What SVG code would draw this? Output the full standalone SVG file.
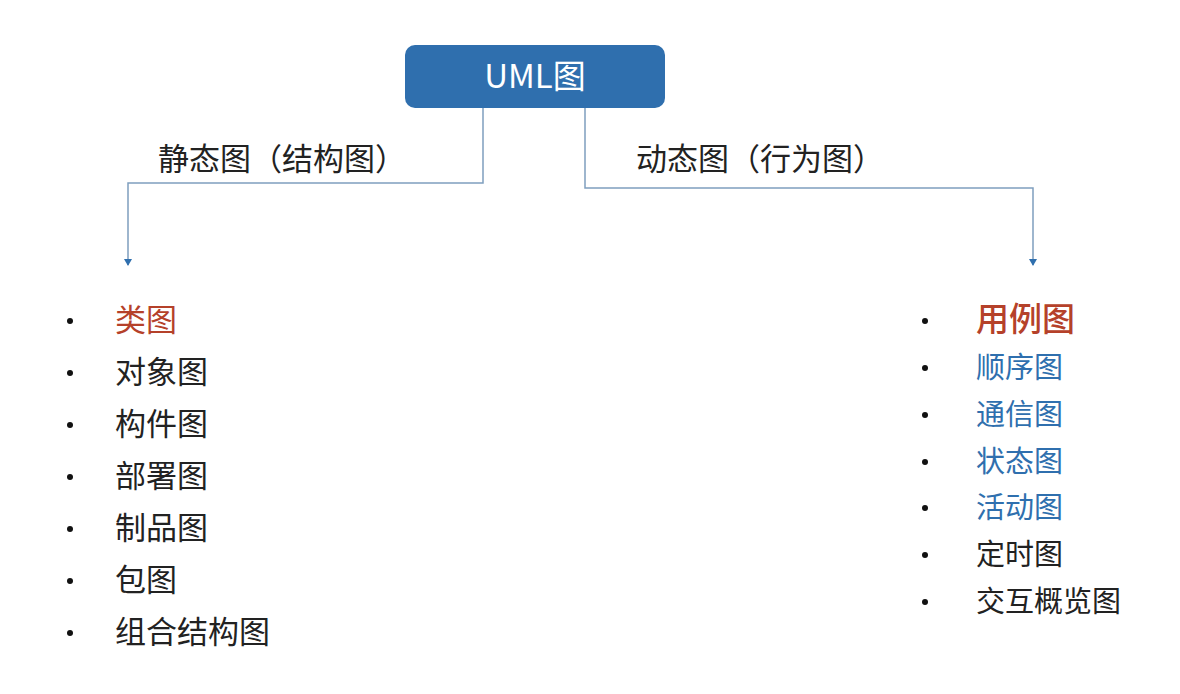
<svg xmlns="http://www.w3.org/2000/svg" width="1180" height="694" viewBox="0 0 1180 694">
<style>
text{font-family:"Noto Sans CJK SC","Noto Sans",sans-serif;fill:#222}
.l{font-size:31px}
.r{font-size:29px}
.red{fill:#b5412a}
.blue{fill:#2f6fae}
.c{fill:none;stroke:#7f9fbf;stroke-width:1.5}
.dot{fill:#111}
</style>
<defs><marker id="a" markerWidth="8" markerHeight="8" refX="6" refY="4" orient="auto" markerUnits="userSpaceOnUse" viewBox="0 0 8 8"><path d="M0,0 L7,4 L0,8 z" fill="#2f6fae"/></marker></defs>
<rect width="1180" height="694" fill="#fff"/>
<g id="connectors">
<path class="c" d="M483,108 V183 H128 V265" marker-end="url(#a)"/>
<path class="c" d="M585,108 V188 H1033 V265" marker-end="url(#a)"/>
<text x="158" y="170" class="l">静态图（结构图）</text>
<text x="636" y="170" class="l">动态图（行为图）</text>
</g>
<g id="root">
<rect x="405" y="45" width="260" height="63" rx="10" fill="#2f6fae"/>
<text x="535" y="88" font-size="33" text-anchor="middle" style="fill:#fff">UML图</text>
</g>
<g id="static">
<g class="dot"><circle cx="70" cy="321" r="3"/><circle cx="70" cy="373" r="3"/><circle cx="70" cy="425" r="3"/><circle cx="70" cy="477" r="3"/><circle cx="70" cy="529" r="3"/><circle cx="70" cy="581" r="3"/><circle cx="70" cy="633" r="3"/></g>
<text x="115" y="331" class="l red">类图</text>
<text x="115" y="383" class="l">对象图</text>
<text x="115" y="435" class="l">构件图</text>
<text x="115" y="487" class="l">部署图</text>
<text x="115" y="539" class="l">制品图</text>
<text x="115" y="591" class="l">包图</text>
<text x="115" y="643" class="l">组合结构图</text>
</g>
<g id="dynamic">
<g class="dot"><circle cx="925" cy="321" r="3"/><circle cx="925" cy="368" r="3"/><circle cx="925" cy="415" r="3"/><circle cx="925" cy="462" r="3"/><circle cx="925" cy="508" r="3"/><circle cx="925" cy="555" r="3"/><circle cx="925" cy="602" r="3"/></g>
<text x="976" y="331" font-size="33" font-weight="500" class="red">用例图</text>
<text x="976" y="378" class="r blue">顺序图</text>
<text x="976" y="425" class="r blue">通信图</text>
<text x="976" y="472" class="r blue">状态图</text>
<text x="976" y="518" class="r blue">活动图</text>
<text x="976" y="565" class="r">定时图</text>
<text x="976" y="612" class="r">交互概览图</text>
</g>
</svg>
